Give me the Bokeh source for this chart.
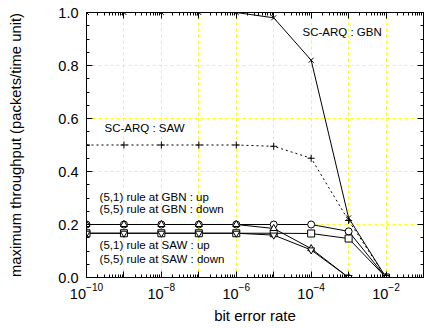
from bokeh.plotting import figure
from bokeh.models import (LogAxis, LinearAxis, FixedTicker, SingleIntervalTicker,
                          CustomJSTickFormatter, PrintfTickFormatter, LogTickFormatter,
                          NoOverlap, Range1d, Label)
from bokeh.embed import file_html
from bokeh.resources import INLINE

# ---- data ----
ber = [1e-10, 1e-9, 1e-8, 1e-7, 1e-6, 1e-5, 1e-4, 1e-3, 1e-2]
gbn = [1.0, 1.0, 1.0, 1.0, 1.0, 0.98, 0.82, 0.225, 0.0]
saw = [0.5, 0.5, 0.5, 0.5, 0.5, 0.495, 0.45, 0.215, 0.0]
gbn_up = [0.2, 0.2, 0.2, 0.2, 0.2, 0.2, 0.2, 0.174, 0.0]
gbn_down = [0.167, 0.167, 0.167, 0.167, 0.167, 0.167, 0.166, 0.147, 0.0]
saw_up = [0.2, 0.2, 0.2, 0.2, 0.2, 0.185, 0.109, 0.0, 0.0]
saw_down = [0.167, 0.167, 0.167, 0.167, 0.167, 0.16, 0.104, 0.0, 0.0]

x_tick_values = [1e-10, 1e-9, 1e-8, 1e-7, 1e-6, 1e-5, 1e-4, 1e-3, 1e-2, 1e-1]
x_minor = [m * d for d in x_tick_values[:-1] for m in range(2, 10)]
y_tick_values = [0.0, 0.2, 0.4, 0.6, 0.8, 1.0]

annot_text = ["SC-ARQ : GBN", "SC-ARQ : SAW",
              "(5,1) rule at GBN : up", "(5,5) rule at GBN : down",
              "(5,1) rule at SAW : up", "(5,5) rule at SAW : down"]
annot_x = [10 ** -4.23, 10 ** -9.52, 10 ** -9.65, 10 ** -9.65, 10 ** -9.65, 10 ** -9.65]
annot_y = [0.925, 0.566, 0.302, 0.257, 0.121, 0.068]

FONT = "Liberation Sans"

p = figure(width=426, height=328, x_axis_type="log",
           x_range=Range1d(1e-10, 1e-1), y_range=Range1d(0, 1),
           output_backend="svg", toolbar_location=None,
           min_border_left=86, min_border_right=2, min_border_top=12,
           min_border_bottom=51)
p.outline_line_color = "black"
p.background_fill_color = "white"
p.border_fill_color = "white"

xticker = FixedTicker(ticks=x_tick_values, minor_ticks=x_minor)
yticker = SingleIntervalTicker(interval=0.2, num_minor_ticks=4)
blank = CustomJSTickFormatter(code="return ' ';")

def style_axis(ax):
    ax.major_tick_in = 6
    ax.major_tick_out = 0
    ax.minor_tick_in = 3
    ax.minor_tick_out = 0
    ax.axis_line_color = "black"
    ax.major_tick_line_color = "black"
    ax.minor_tick_line_color = "black"
    ax.major_label_text_font = FONT
    ax.major_label_text_color = "black"
    ax.axis_label_text_font = FONT
    ax.axis_label_text_font_style = "normal"
    ax.axis_label_text_color = "black"

xa = p.xaxis[0]
xa.ticker = xticker
xa.formatter = LogTickFormatter()
xa.major_label_policy = NoOverlap(min_distance=12)
style_axis(xa)
xa.major_label_text_font_size = "14.5px"
xa.major_label_standoff = 5
xa.axis_label = "bit error rate"
xa.axis_label_text_font_size = "15px"
xa.axis_label_standoff = 5

ya = p.yaxis[0]
ya.ticker = yticker
ya.formatter = PrintfTickFormatter(format="%.1f")
style_axis(ya)
ya.major_label_text_font_size = "14.5px"
ya.major_label_standoff = 8
ya.axis_label = "maximum throughput (packets/time unit)"
ya.axis_label_text_font_size = "14.8px"
ya.axis_label_standoff = 31

top = LogAxis(ticker=xticker, formatter=blank)
style_axis(top)
top.major_label_text_font_size = "1px"
top.major_label_standoff = 0
right = LinearAxis(ticker=yticker, formatter=blank)
style_axis(right)
right.major_label_text_font_size = "1px"
right.major_label_standoff = 0
p.add_layout(top, "above")
p.add_layout(right, "right")

p.xgrid.ticker = FixedTicker(ticks=x_tick_values[1:-1])
p.ygrid.ticker = FixedTicker(ticks=y_tick_values[1:-1])
for g in (p.xgrid[0], p.ygrid[0]):
    g.grid_line_color = "#ffff00"
    g.grid_line_dash = "3 3"
    g.grid_line_width = 1

# series
p.line(ber, gbn, line_color="black", line_width=1)
p.scatter(ber, gbn, marker="x", size=7, line_color="black", line_width=1)
p.line(ber, saw, line_color="black", line_width=1, line_dash="2 3")
p.scatter(ber, saw, marker="cross", size=7, line_color="black", line_width=1)

p.line(ber, gbn_up, line_color="black", line_width=1)
p.line(ber, gbn_down, line_color="black", line_width=1)
p.line(ber, saw_up, line_color="black", line_width=1)
p.line(ber, saw_down, line_color="black", line_width=1)
p.scatter(ber, gbn_up, marker="circle", size=7, line_color="black", fill_color="white")
p.scatter(ber, gbn_down, marker="square", size=7, line_color="black", fill_color="white")
p.scatter(ber, saw_up, marker="triangle", size=7, line_color="black", fill_color="white")
p.scatter(ber, saw_down, marker="inverted_triangle", size=7, line_color="black", fill_color="white")

for t, x, y in zip(annot_text, annot_x, annot_y):
    p.add_layout(Label(x=x, y=y, text=t, text_font=FONT, text_font_size="11.5px",
                       text_baseline="middle", text_color="black"))

open("out.html", "w").write(file_html(p, INLINE))
